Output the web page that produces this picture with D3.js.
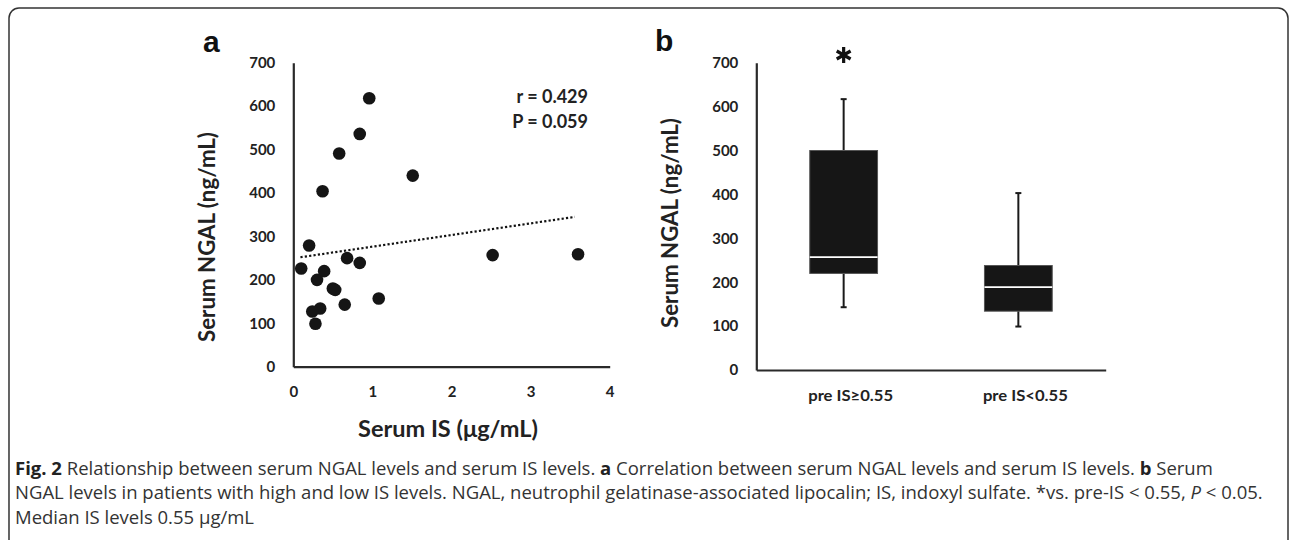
<!DOCTYPE html>
<html><head><meta charset="utf-8">
<script src="https://cdn.jsdelivr.net/npm/d3@7"></script>
<style>body{margin:0;background:#fff} svg{display:block}</style>
</head><body><svg id="c" width="1290" height="540"></svg>
<script>
// ---- data ----
const isX   = [0.96,0.84,0.58,1.51,0.37,0.20,0.10,0.68,0.84,0.39,0.30,0.50,0.53,1.08,0.65,0.34,0.24,0.28,2.52,3.60];
const ngalY = [618, 536, 491, 440, 404, 279, 226, 250, 239, 220, 200, 180, 177, 157, 143, 134, 127, 99, 257, 259];
const trendX = [0.09, 3.56];
const trendY = [252, 345];
const xTicks = [0,1,2,3,4];
const yTicks = [0,100,200,300,400,500,600,700];
const groups = ["pre IS≥0.55","pre IS<0.55"];
const boxMin    = [143, 99];
const boxQ1     = [220, 134];
const boxMedian = [257, 189];
const boxQ3     = [500, 238];
const boxMax    = [617, 403];

const svg = d3.select("#c");
const chartFont = "Lato, 'Open Sans', sans-serif";
const ink = "#222";

function fit(sel, target){
  const fs = parseFloat(sel.attr("font-size"));
  const w = sel.node().getComputedTextLength();
  sel.attr("font-size", fs*target/w);
}

// frame
svg.append("rect").attr("x",9).attr("y",8).attr("width",1279).attr("height",560)
  .attr("rx",10).attr("fill","none").attr("stroke","#333").attr("stroke-width",1.5);

// ---- panel a ----
const xa = d3.scaleLinear().domain([0,4]).range([293.3,609.7]);
const ya = d3.scaleLinear().domain([0,700]).range([366.7,62.7]);

function styleAxis(g){
  g.select(".domain").attr("stroke","#2a2a2a").attr("stroke-width",2.2);
  g.selectAll("text").attr("font-family",chartFont).attr("font-weight",700)
    .attr("font-size",15).attr("fill",ink);
}
svg.append("g").attr("transform",`translate(0,${ya(0)})`)
  .call(d3.axisBottom(xa).tickValues(xTicks).tickSize(0).tickSizeOuter(0).tickPadding(20).tickFormat(d3.format("d")))
  .call(styleAxis);
svg.append("g").attr("transform",`translate(${xa(0)},0)`)
  .call(d3.axisLeft(ya).tickValues(yTicks).tickSize(0).tickSizeOuter(0).tickPadding(18).tickFormat(d3.format("d")))
  .call(styleAxis);

// trend line
svg.append("path")
  .attr("d", d3.line().x(d=>xa(d[0])).y(d=>ya(d[1]))(trendX.map((x,i)=>[x,trendY[i]])))
  .attr("fill","none").attr("stroke","#111").attr("stroke-width",2.2).attr("stroke-dasharray","2.2,2.2");

svg.append("g").selectAll("circle").data(isX.map((x,i)=>[x,ngalY[i]])).join("circle")
  .attr("cx",d=>xa(d[0])).attr("cy",d=>ya(d[1])).attr("r",6.3).attr("fill","#151515");

svg.append("text").attr("x",588).attr("y",103).attr("text-anchor","end")
  .attr("font-family",chartFont).attr("font-weight",700).attr("font-size",18).attr("fill",ink)
  .text("r = 0.429");
svg.append("text").attr("x",588).attr("y",128).attr("text-anchor","end")
  .attr("font-family",chartFont).attr("font-weight",700).attr("font-size",18).attr("fill",ink)
  .text("P = 0.059");

const yta = svg.append("text").attr("transform","translate(215,237) rotate(-90)").attr("text-anchor","middle")
  .attr("font-family",chartFont).attr("font-weight",700).attr("font-size",19).attr("fill",ink)
  .text("Serum NGAL (ng/mL)");
fit(yta,210);
const xta = svg.append("text").attr("x",448).attr("y",437).attr("text-anchor","middle")
  .attr("font-family",chartFont).attr("font-weight",700).attr("font-size",19).attr("fill",ink)
  .text("Serum IS (μg/mL)");
fit(xta,180);

svg.append("text").attr("x",203).attr("y",52).attr("font-family","'Liberation Sans', Arial, sans-serif")
  .attr("font-weight",700).attr("font-size",30).attr("fill","#111").text("a");

// ---- panel b ----
const xb = d3.scaleBand().domain(groups).range([756.3,1105.7]);
const yb = d3.scaleLinear().domain([0,700]).range([370,62.7]);

const gxb = svg.append("g").attr("transform",`translate(0,${yb(0)})`)
  .call(d3.axisBottom(xb).tickSize(0).tickSizeOuter(0).tickPadding(20))
  .call(styleAxis);
gxb.selectAll(".tick").attr("transform",d=>`translate(${xb(d)+xb.bandwidth()/2+7},0)`);
gxb.selectAll("text").attr("font-size",16).attr("y",31.5).attr("dy",null).each(function(){
  const w = this.getComputedTextLength();
  d3.select(this).attr("transform",`scale(${85/w},1)`);
});
svg.append("g").attr("transform",`translate(${xb.range()[0]},0)`)
  .call(d3.axisLeft(yb).tickValues(yTicks).tickSize(0).tickSizeOuter(0).tickPadding(18).tickFormat(d3.format("d")))
  .call(styleAxis);

const bw = xb.bandwidth()*0.388;
const capW = 6;
const boxes = svg.append("g").selectAll("g").data(groups).join("g")
  .attr("transform",d=>`translate(${xb(d)+xb.bandwidth()/2},0)`);
boxes.append("line").attr("x1",0).attr("x2",0).attr("y1",(d,i)=>yb(boxMax[i])).attr("y2",(d,i)=>yb(boxQ3[i]))
  .attr("stroke","#1a1a1a").attr("stroke-width",2);
boxes.append("line").attr("x1",0).attr("x2",0).attr("y1",(d,i)=>yb(boxMin[i])).attr("y2",(d,i)=>yb(boxQ1[i]))
  .attr("stroke","#1a1a1a").attr("stroke-width",2);
boxes.append("line").attr("x1",-capW/2).attr("x2",capW/2).attr("y1",(d,i)=>yb(boxMax[i])).attr("y2",(d,i)=>yb(boxMax[i]))
  .attr("stroke","#1a1a1a").attr("stroke-width",2);
boxes.append("line").attr("x1",-capW/2).attr("x2",capW/2).attr("y1",(d,i)=>yb(boxMin[i])).attr("y2",(d,i)=>yb(boxMin[i]))
  .attr("stroke","#1a1a1a").attr("stroke-width",2);
boxes.append("rect").attr("x",-bw/2).attr("width",bw)
  .attr("y",(d,i)=>yb(boxQ3[i])).attr("height",(d,i)=>yb(boxQ1[i])-yb(boxQ3[i]))
  .attr("fill","#161616").attr("stroke","#555").attr("stroke-width",1);
boxes.append("line").attr("x1",-bw/2).attr("x2",bw/2).attr("y1",(d,i)=>yb(boxMedian[i])).attr("y2",(d,i)=>yb(boxMedian[i]))
  .attr("stroke","#fff").attr("stroke-width",1.8);

// significance asterisk
svg.append("path").attr("transform",`translate(${xb(groups[0])+xb.bandwidth()/2},55)`)
  .attr("d",d3.symbol(d3.symbolAsterisk,181)())
  .attr("fill","none").attr("stroke","#111").attr("stroke-width",3.2);

const ytb = svg.append("text").attr("transform","translate(678,223) rotate(-90)").attr("text-anchor","middle")
  .attr("font-family",chartFont).attr("font-weight",700).attr("font-size",19).attr("fill",ink)
  .text("Serum NGAL (ng/mL)");
fit(ytb,210);

svg.append("text").attr("x",655).attr("y",51).attr("font-family","'Liberation Sans', Arial, sans-serif")
  .attr("font-weight",700).attr("font-size",30).attr("fill","#111").text("b");

// ---- caption ----
const capFont = "'Open Sans', sans-serif";
const cap = svg.append("g").attr("font-family",capFont).attr("fill","#333").attr("font-size",17);
const l1 = cap.append("text").attr("x",15).attr("y",475);
l1.append("tspan").attr("font-weight",700).attr("fill","#222").text("Fig. 2");
l1.append("tspan").text(" Relationship between serum NGAL levels and serum IS levels. ");
l1.append("tspan").attr("font-weight",700).attr("fill","#222").text("a");
l1.append("tspan").text(" Correlation between serum NGAL levels and serum IS levels. ");
l1.append("tspan").attr("font-weight",700).attr("fill","#222").text("b");
l1.append("tspan").text(" Serum");
const l2 = cap.append("text").attr("x",15).attr("y",499);
l2.append("tspan").text("NGAL levels in patients with high and low IS levels. NGAL, neutrophil gelatinase-associated lipocalin; IS, indoxyl sulfate. *vs. pre-IS < 0.55, ");
l2.append("tspan").attr("font-style","italic").text("P");
l2.append("tspan").text(" < 0.05.");
const l3 = cap.append("text").attr("x",15).attr("y",524).text("Median IS levels 0.55 μg/mL");
const w2 = l2.node().getComputedTextLength();
cap.attr("font-size", 17*1248/w2);
</script></body></html>
